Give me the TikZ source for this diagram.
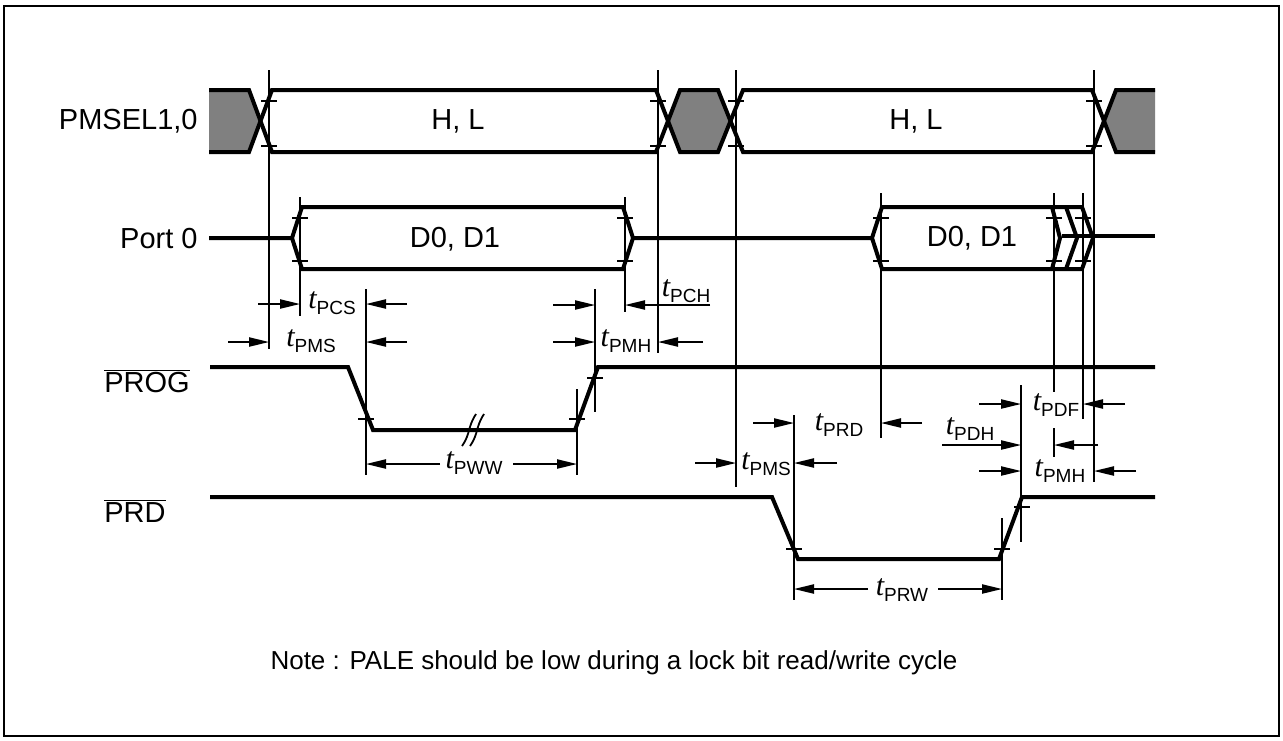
\documentclass[tikz,border=0pt]{standalone}
\usepackage{fontspec}
\setmainfont{Liberation Sans}
\newfontfamily\tfont{Liberation Serif}
\usetikzlibrary{arrows.meta}
\newcommand{\tname}[1]{{\fontsize{15}{15}\selectfont\tfont\itshape t}\raisebox{-3pt}{\fontsize{9.5}{10}\selectfont #1}}

\begin{document}
\begin{tikzpicture}[x=0.5pt,y=-0.5pt,
  sig/.style={line width=2pt},
  ref/.style={line width=0.9pt},
  tick/.style={line width=0.7pt},
  dim/.style={line width=0.8pt,-{Triangle[length=10pt,width=4.6pt]}},
  lbl/.style={font=\fontsize{14.5}{16}\selectfont,inner sep=0pt},
  tlbl/.style={inner sep=0pt}]
\useasboundingbox (0,0) rectangle (1283,740);
\draw[line width=1.3pt] (4,6) rectangle (1279,736);
% signal names
\node[lbl,anchor=east] (pmsel) at (198,121) {PMSEL1,0};
\node[lbl,anchor=east] (port)  at (198,239) {Port 0};
\node[lbl,anchor=west] (prog)  at (104,381) {$\overline{\hbox{PROG}}$};
\node[lbl,anchor=west] (prd)   at (104,511) {$\overline{\hbox{PRD}}$};
% PMSEL1,0
\fill[black!50] (209,90) -- (249,90) -- (260.5,121) -- (249,152) -- (209,152) -- cycle;
\fill[black!50] (668,121) -- (680,90) -- (718,90) -- (730.5,121) -- (718,152) -- (680,152) -- cycle;
\fill[black!50] (1104,121) -- (1116,90) -- (1155,90) -- (1155,152) -- (1116,152) -- cycle;
\draw[sig] (209,90) -- (249,90) -- (272,152) -- (656,152) -- (680,90) -- (718,90) -- (743,152) -- (1092,152) -- (1116,90) -- (1155,90);
\draw[sig] (209,152) -- (249,152) -- (272,90) -- (656,90) -- (680,152) -- (718,152) -- (743,90) -- (1092,90) -- (1116,152) -- (1155,152);
\node[lbl] (hl1) at (458,121) {H, L};
\node[lbl] (hl2) at (916,121) {H, L};
% Port 0
\draw[sig] (209,238) -- (292,238) -- (302,207) -- (623,207) -- (633,238) -- (872,238) -- (882,207) -- (1082,207) -- (1093,238) -- (1082,269) -- (882,269) -- (872,238);
\draw[sig] (292,238) -- (302,269) -- (623,269) -- (633,238);
\draw[sig] (1052,207) -- (1060,238) -- (1052,269);
\draw[sig] (1066,207) -- (1077,238) -- (1066,269);
\draw[sig] (1062,236) -- (1155,236);
\node[lbl] (d1) at (455,239) {D0, D1};
\node[lbl] (d2) at (972,238) {D0, D1};
% PROG and PRD
\draw[sig] (210,367) -- (348,367) -- (373,430) -- (575,430) -- (598,367) -- (1155,367);
\draw[sig] (210,497) -- (772,497) -- (798,559) -- (999,559) -- (1022,497) -- (1155,497);
\draw[line width=0.9pt] (462,446) .. controls (471,433) and (467,428) .. (476,414)
                        (470,446) .. controls (479,433) and (475,428) .. (484,414);
% ticks
\foreach \x in {269,658,736,1094}
  \draw[tick] (\x-8,101) -- (\x+8,101) (\x-8,146) -- (\x+8,146);
\foreach \x in {300,625,881,1054,1083}
  \draw[tick] (\x-8,218) -- (\x+8,218) (\x-8,261) -- (\x+8,261);
\draw[tick] (358,419) -- (374,419) (569,419) -- (585,419) (587,378) -- (603,378);
\draw[tick] (786,549) -- (802,549) (994,549) -- (1010,549) (1014,507) -- (1030,507);
% reference lines
\draw[ref] (269,70) -- (269,349) (300,197) -- (300,316) (366,289) -- (366,475)
  (577,389) -- (577,475) (595,289) -- (595,412) (625,197) -- (625,312)
  (658,70) -- (658,353) (736,70) -- (736,487) (794,415) -- (794,600)
  (881,193) -- (881,438) (1002,518) -- (1002,600) (1021,385) -- (1021,542)
  (1054,193) -- (1054,392) (1054,428) -- (1054,457) (1083,193) -- (1083,419)
  (1094,70) -- (1094,482);
% timing labels
\node[tlbl] (pcs)  at (332,303) {\tname{PCS}};
\node[tlbl] (pms1) at (311,341) {\tname{PMS}};
\node[tlbl] (pch)  at (686,291) {\tname{PCH}};
\node[tlbl] (pmh1) at (626,341) {\tname{PMH}};
\node[tlbl] (pww)  at (474,463) {\tname{PWW}};
\node[tlbl] (prdt) at (839,425) {\tname{PRD}};
\node[tlbl] (pms2) at (766,464) {\tname{PMS}};
\node[tlbl] (pdh)  at (970,429) {\tname{PDH}};
\node[tlbl] (pdf)  at (1056,405) {\tname{PDF}};
\node[tlbl] (pmh2) at (1060,471) {\tname{PMH}};
\node[tlbl] (prw)  at (902,590) {\tname{PRW}};
% timing arrows
\draw[dim] (258,304) -- (300,304);
\draw[dim] (407,304) -- (366,304);
\draw[dim] (228,342) -- (269,342);
\draw[dim] (407,342) -- (366,342);
\draw[dim] (710,305) -- (625,305);
\draw[dim] (553,305) -- (595,305);
\draw[dim] (553,342) -- (595,342);
\draw[dim] (703,342) -- (658,342);
\draw[dim] (440,464) -- (366,464);
\draw[dim] (513,464) -- (577,464);
\draw[dim] (753,423) -- (794,423);
\draw[dim] (922,423) -- (881,423);
\draw[dim] (695,463) -- (736,463);
\draw[dim] (837,463) -- (794,463);
\draw[dim] (979,404) -- (1021,404);
\draw[dim] (1125,404) -- (1083,404);
\draw[dim] (942,445) -- (1021,445);
\draw[dim] (1098,445) -- (1054,445);
\draw[dim] (979,471) -- (1021,471);
\draw[dim] (1136,471) -- (1094,471);
\draw[dim] (868,589) -- (794,589);
\draw[dim] (938,589) -- (1002,589);
% note
\node[font=\fontsize{13}{15}\selectfont,inner sep=0pt] (note) at (614,663)
  {Note : PALE should be low during a lock bit read/write cycle};
\end{tikzpicture}
\end{document}
